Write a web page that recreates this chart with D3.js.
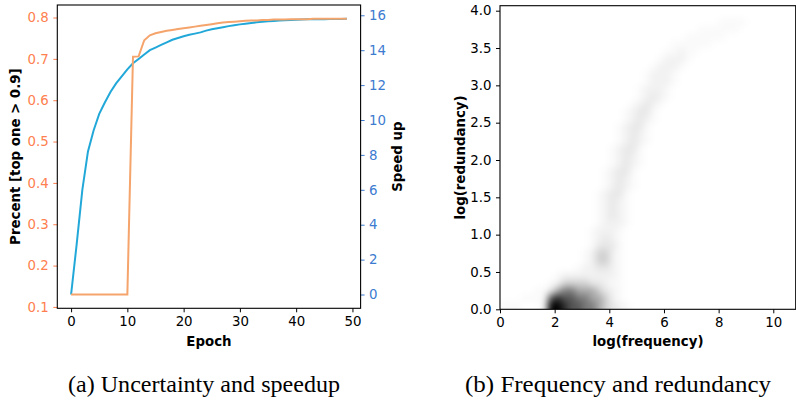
<!DOCTYPE html>
<html><head><meta charset="utf-8">
<script src="https://cdn.jsdelivr.net/npm/d3@7"></script>
<style>body{margin:0;background:#fff} svg{display:block;background:#fff}</style>
</head><body><svg id="c" width="796" height="402"></svg>
<script>
// ---------- data: panel (a) ----------
const epochs = [0,1,2,3,4,5,6,7,8,9,10,11,12,13,14,15,16,17,18,19,20,21,22,23,24,25,26,27,28,29,30,31,32,33,34,35,36,37,38,39,40,41,42,43,44,45,46,47,48,49];
const percentTop = [0.13,0.13,0.13,0.13,0.13,0.13,0.13,0.13,0.13,0.13,0.13,
  0.705,0.706,0.745,0.757,0.762,0.765,0.768,0.770,0.772,0.774,0.776,0.778,0.780,0.782,0.784,0.786,0.788,0.789,0.790,
  0.791,0.792,0.793,0.793,0.794,0.794,0.795,0.795,0.795,0.796,0.796,0.796,0.796,0.797,0.797,0.797,0.797,0.797,0.797,0.797];
const speedUp = [0,2.9,6.0,8.2,9.4,10.35,11.0,11.6,12.1,12.5,
  12.9,13.25,13.5,13.75,14.0,14.15,14.3,14.45,14.6,14.7,
  14.8,14.88,14.95,15.02,15.12,15.2,15.26,15.32,15.38,15.43,
  15.48,15.52,15.56,15.6,15.63,15.66,15.68,15.7,15.72,15.73,
  15.75,15.76,15.77,15.77,15.78,15.78,15.79,15.79,15.79,15.8];
const epochTicks = [0,10,20,30,40,50];
const percentTicks = [0.1,0.2,0.3,0.4,0.5,0.6,0.7,0.8];
const speedTicks = [0,2,4,6,8,10,12,14,16];

// ---------- data: panel (b) density grid ----------
// cell size: 0.25 in log(frequency) x 0.1 in log(redundancy); rows bottom-up
// each row: [first column index, intensity digits 0-9]
const cellW = 0.25, cellH = 0.1;
const densityRows = [
  [0, "1110002998776654321"],
  [3, "111178776655421"],
  [5, "1135665554321"],
  [7, "12444433211"],
  [8, "1222222221"],
  [11, "1223321"],
  [12, "124421"],
  [12, "124421"],
  [13, "13331"],
  [13, "12321"],
  [13, "12221"],
  [14, "12221"],
  [14, "12321"],
  [14, "12321"],
  [14, "12321"],
  [14, "12331"],
  [15, "12321"],
  [15, "12321"],
  [15, "12331"],
  [16, "12321"],
  [16, "12321"],
  [16, "12331"],
  [17, "12321"],
  [17, "12321"],
  [17, "12331"],
  [18, "12321"],
  [18, "12331"],
  [19, "12321"],
  [20, "12321"],
  [20, "12221"],
  [21, "12221"],
  [21, "12221"],
  [22, "12221"],
  [23, "12221"],
  [24, "11211"],
  [25, "111111"],
  [27, "111111"],
  [29, "111111"],
  [32, "1111"]
];
const levelDarkness = [0, 0.02, 0.05, 0.085, 0.17, 0.32, 0.5, 0.65, 0.82, 1.0];
const freqTicks = [0,2,4,6,8,10];
const redTicks = [0,0.5,1,1.5,2,2.5,3,3.5,4];

const captions = ["(a) Uncertainty and speedup", "(b) Frequency and redundancy"];

// ---------- styles ----------
const FONT = "DejaVu Sans";
const FS = 13.33;
const orange = "#f5a46c", coral = "#ff7f50", blue = "#22a8d8", tickBlue = "#3c7bd0";

const svg = d3.select("#c");

function styleAxis(g, color) {
  g.selectAll("text").attr("font-family", FONT).attr("font-size", FS).attr("fill", color);
  g.selectAll("line").attr("stroke", color).attr("stroke-width", 1);
  g.select(".domain").remove();
}

// ================= Panel (a) =================
const A = {l: 57.3, r: 360.6, t: 5, b: 308.3};
const xA = d3.scaleLinear().domain([-2.45, 51.45]).range([A.l, A.r]);
const yL = d3.scaleLinear().domain([0.0967, 0.8303]).range([A.b, A.t]);
const yR = d3.scaleLinear().domain([-0.79, 16.59]).range([A.b, A.t]);

const gA = svg.append("g");
gA.append("g").attr("transform", `translate(0,${A.b})`)
  .call(d3.axisBottom(xA).tickValues(epochTicks).tickSize(4).tickPadding(4.5).tickFormat(d3.format("d")))
  .call(g => styleAxis(g, "#000"));
gA.append("g").attr("transform", `translate(${A.l},0)`)
  .call(d3.axisLeft(yL).tickValues(percentTicks).tickSize(4).tickPadding(4.5).tickFormat(d3.format(".1f")))
  .call(g => styleAxis(g, coral));
gA.append("g").attr("transform", `translate(${A.r},0)`)
  .call(d3.axisRight(yR).tickValues(speedTicks).tickSize(4).tickPadding(4.5).tickFormat(d3.format("d")))
  .call(g => styleAxis(g, tickBlue));

gA.append("path").datum(speedUp)
  .attr("fill", "none").attr("stroke", blue).attr("stroke-width", 2)
  .attr("d", d3.line().x((d, i) => xA(epochs[i])).y(d => yR(d)));
gA.append("path").datum(percentTop)
  .attr("fill", "none").attr("stroke", orange).attr("stroke-width", 2)
  .attr("d", d3.line().x((d, i) => xA(epochs[i])).y(d => yL(d)));

gA.append("rect").attr("x", A.l).attr("y", A.t).attr("width", A.r - A.l).attr("height", A.b - A.t)
  .attr("fill", "none").attr("stroke", "#000").attr("stroke-width", 1.1);

gA.append("text").text("Epoch").attr("x", (A.l + A.r) / 2).attr("y", 346)
  .attr("text-anchor", "middle").attr("font-family", FONT).attr("font-weight", "bold").attr("font-size", FS);
gA.append("text").text("Precent [top one > 0.9]")
  .attr("transform", `translate(20,${(A.t + A.b) / 2}) rotate(-90)`)
  .attr("text-anchor", "middle").attr("font-family", FONT).attr("font-weight", "bold").attr("font-size", FS);
gA.append("text").text("Speed up")
  .attr("transform", `translate(402,${(A.t + A.b) / 2}) rotate(-90)`)
  .attr("text-anchor", "middle").attr("font-family", FONT).attr("font-weight", "bold").attr("font-size", FS);

// ================= Panel (b) =================
const B = {l: 500, r: 795.7, t: 5.7, b: 309.3};
const xB = d3.scaleLinear().domain([0, 10.82]).range([B.l, B.r]);
const yB = d3.scaleLinear().domain([0, 4.067]).range([B.b, B.t]);

const defs = svg.append("defs");
defs.append("clipPath").attr("id", "clipB").append("rect")
  .attr("x", B.l).attr("y", B.t).attr("width", B.r - B.l).attr("height", B.b - B.t);
defs.append("filter").attr("id", "blurB").attr("filterUnits", "userSpaceOnUse")
  .attr("x", B.l - 40).attr("y", B.t - 40).attr("width", B.r - B.l + 80).attr("height", B.b - B.t + 80)
  .append("feGaussianBlur").attr("stdDeviation", 3.8);

const cells = [];
densityRows.forEach(([start, digits], row) => {
  for (let k = 0; k < digits.length; k++) {
    const lv = +digits[k];
    if (lv > 0) cells.push({col: start + k, row, lv});
  }
});

const gB = svg.append("g");
gB.append("g").attr("clip-path", "url(#clipB)")
  .append("g").attr("filter", "url(#blurB)")
  .selectAll("rect").data(cells).join("rect")
  .attr("x", d => xB(d.col * cellW))
  .attr("width", d => xB((d.col + 1) * cellW) - xB(d.col * cellW) + 0.3)
  .attr("y", d => yB((d.row + 1) * cellH))
  .attr("height", d => yB(d.row * cellH) - yB((d.row + 1) * cellH) + 0.3 + (d.row === 0 ? 14 : 0))
  .attr("fill", "#000")
  .attr("fill-opacity", d => levelDarkness[d.lv]);

gB.append("g").attr("transform", `translate(0,${B.b})`)
  .call(d3.axisBottom(xB).tickValues(freqTicks).tickSize(4).tickPadding(4.5).tickFormat(d3.format("d")))
  .call(g => styleAxis(g, "#000"));
gB.append("g").attr("transform", `translate(${B.l},0)`)
  .call(d3.axisLeft(yB).tickValues(redTicks).tickSize(4).tickPadding(4.5).tickFormat(d3.format(".1f")))
  .call(g => styleAxis(g, "#000"));
gB.append("rect").attr("x", B.l).attr("y", B.t).attr("width", B.r - B.l).attr("height", B.b - B.t)
  .attr("fill", "none").attr("stroke", "#000").attr("stroke-width", 1.1);

gB.append("text").text("log(frequency)").attr("x", 648).attr("y", 346)
  .attr("text-anchor", "middle").attr("font-family", FONT).attr("font-weight", "bold").attr("font-size", FS);
gB.append("text").text("log(redundancy)")
  .attr("transform", `translate(465,${(B.t + B.b) / 2}) rotate(-90)`)
  .attr("text-anchor", "middle").attr("font-family", FONT).attr("font-weight", "bold").attr("font-size", FS);

// ================= Captions =================
svg.append("text").text(captions[0]).attr("x", 204).attr("y", 392)
  .attr("text-anchor", "middle").attr("font-family", "Liberation Serif").attr("font-size", 24)
  .attr("textLength", 272).attr("lengthAdjust", "spacingAndGlyphs");
svg.append("text").text(captions[1]).attr("x", 618).attr("y", 392)
  .attr("text-anchor", "middle").attr("font-family", "Liberation Serif").attr("font-size", 24)
  .attr("textLength", 306).attr("lengthAdjust", "spacingAndGlyphs");
</script></body></html>
